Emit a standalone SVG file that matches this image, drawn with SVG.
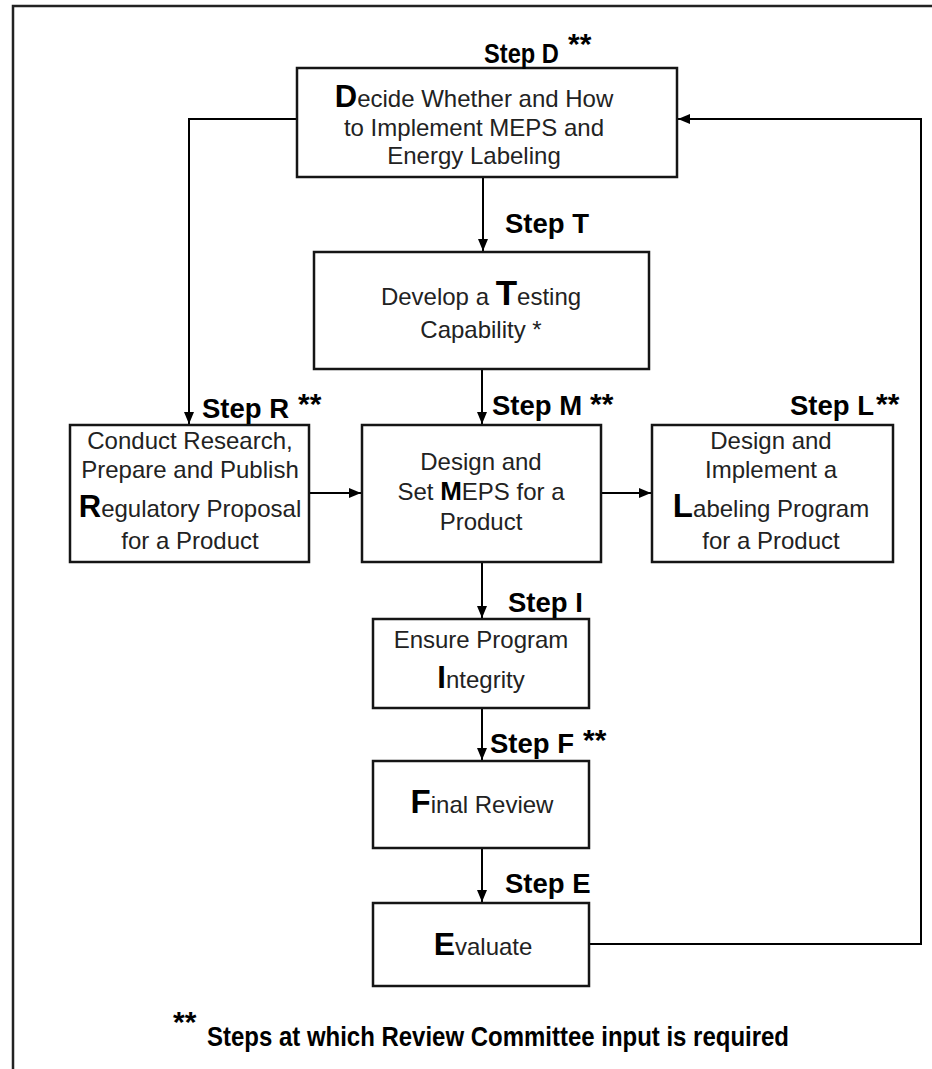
<svg xmlns="http://www.w3.org/2000/svg" width="932" height="1069" viewBox="0 0 932 1069">
<style>
.box{fill:#fff;stroke:#151515;stroke-width:2.5}
.t{font-family:"Liberation Sans",Arial,sans-serif;font-size:24px;fill:#222;text-anchor:middle}
.b{font-weight:bold;fill:#000}
.step{font-family:"Liberation Sans",Arial,sans-serif;font-size:27.5px;font-weight:bold;fill:#000}
.ast{font-family:"Liberation Sans",Arial,sans-serif;font-size:30px;font-weight:bold;fill:#000}
.ln{fill:none;stroke:#000;stroke-width:2}
</style>
<defs>
<marker id="ah" markerWidth="12" markerHeight="10" refX="12" refY="5" orient="auto" markerUnits="userSpaceOnUse">
<path d="M0,0 L12,5 L0,10 Z" fill="#000"/>
</marker>
</defs>
<rect width="932" height="1069" fill="#fff"/>
<path d="M13,1069 V6 H932" fill="none" stroke="#222" stroke-width="2.5"/>

<g id="connectors">
<path class="ln" d="M483,177 V251" marker-end="url(#ah)"/>
<path class="ln" d="M297,119 H189 V424" marker-end="url(#ah)"/>
<path class="ln" d="M482,369 V424" marker-end="url(#ah)"/>
<path class="ln" d="M309,493 H361" marker-end="url(#ah)"/>
<path class="ln" d="M601,493 H651" marker-end="url(#ah)"/>
<path class="ln" d="M482,562 V618" marker-end="url(#ah)"/>
<path class="ln" d="M482,708 V760" marker-end="url(#ah)"/>
<path class="ln" d="M482,848 V902" marker-end="url(#ah)"/>
<path class="ln" d="M589,944 H921 V119 H678" marker-end="url(#ah)"/>
</g>

<g id="stepD">
<rect class="box" x="297" y="68" width="380" height="109"/>
<text class="step" transform="translate(484,63) scale(0.86,1)">Step D</text>
<text class="ast" x="568" y="54">**</text>
<text class="t" x="474" y="107"><tspan class="b" font-size="31">D</tspan>ecide Whether and How</text>
<text class="t" x="474" y="136">to Implement MEPS and</text>
<text class="t" x="474" y="164">Energy Labeling</text>
</g>

<g id="stepT">
<rect class="box" x="314" y="252" width="335" height="117"/>
<text class="step" x="505" y="233">Step T</text>
<text class="t" x="481" y="305">Develop a <tspan class="b" font-size="35">T</tspan>esting</text>
<text class="t" x="481" y="338">Capability *</text>
</g>

<g id="stepR">
<rect class="box" x="70" y="425" width="239" height="137"/>
<text class="step" x="202" y="418">Step R</text>
<text class="ast" x="298" y="414">**</text>
<text class="t" x="190" y="449">Conduct Research,</text>
<text class="t" x="190" y="478">Prepare and Publish</text>
<text class="t" x="190" y="517"><tspan class="b" font-size="31">R</tspan>egulatory Proposal</text>
<text class="t" x="190" y="549">for a Product</text>
</g>

<g id="stepM">
<rect class="box" x="362" y="425" width="239" height="137"/>
<text class="step" x="492" y="415">Step M</text>
<text class="ast" x="590" y="414">**</text>
<text class="t" x="481" y="470">Design and</text>
<text class="t" x="481" y="500">Set <tspan class="b" font-size="26">M</tspan>EPS for a</text>
<text class="t" x="481" y="530">Product</text>
</g>

<g id="stepL">
<rect class="box" x="652" y="425" width="241" height="137"/>
<text class="step" x="790" y="415">Step L</text>
<text class="ast" x="876" y="414">**</text>
<text class="t" x="771" y="449">Design and</text>
<text class="t" x="771" y="478">Implement a</text>
<text class="t" x="771" y="517"><tspan class="b" font-size="33">L</tspan>abeling Program</text>
<text class="t" x="771" y="549">for a Product</text>
</g>

<g id="stepI">
<rect class="box" x="373" y="619" width="216" height="89"/>
<text class="step" x="508" y="612">Step I</text>
<text class="t" x="481" y="648">Ensure Program</text>
<text class="t" x="481" y="688"><tspan class="b" font-size="31">I</tspan>ntegrity</text>
</g>

<g id="stepF">
<rect class="box" x="373" y="761" width="216" height="87"/>
<text class="step" x="490" y="753">Step F</text>
<text class="ast" x="583" y="750">**</text>
<text class="t" x="482" y="813" font-size="26"><tspan class="b" font-size="33">F</tspan>inal Review</text>
</g>

<g id="stepE">
<rect class="box" x="373" y="903" width="216" height="83"/>
<text class="step" x="505" y="893">Step E</text>
<text class="t" x="483" y="955" font-size="25"><tspan class="b" font-size="32">E</tspan>valuate</text>
</g>

<g id="footer">
<text class="ast" x="173" y="1032" font-size="24">**</text>
<text class="step" x="207" y="1046" font-size="21" textLength="582" lengthAdjust="spacingAndGlyphs">Steps at which Review Committee input is required</text>
</g>
</svg>
